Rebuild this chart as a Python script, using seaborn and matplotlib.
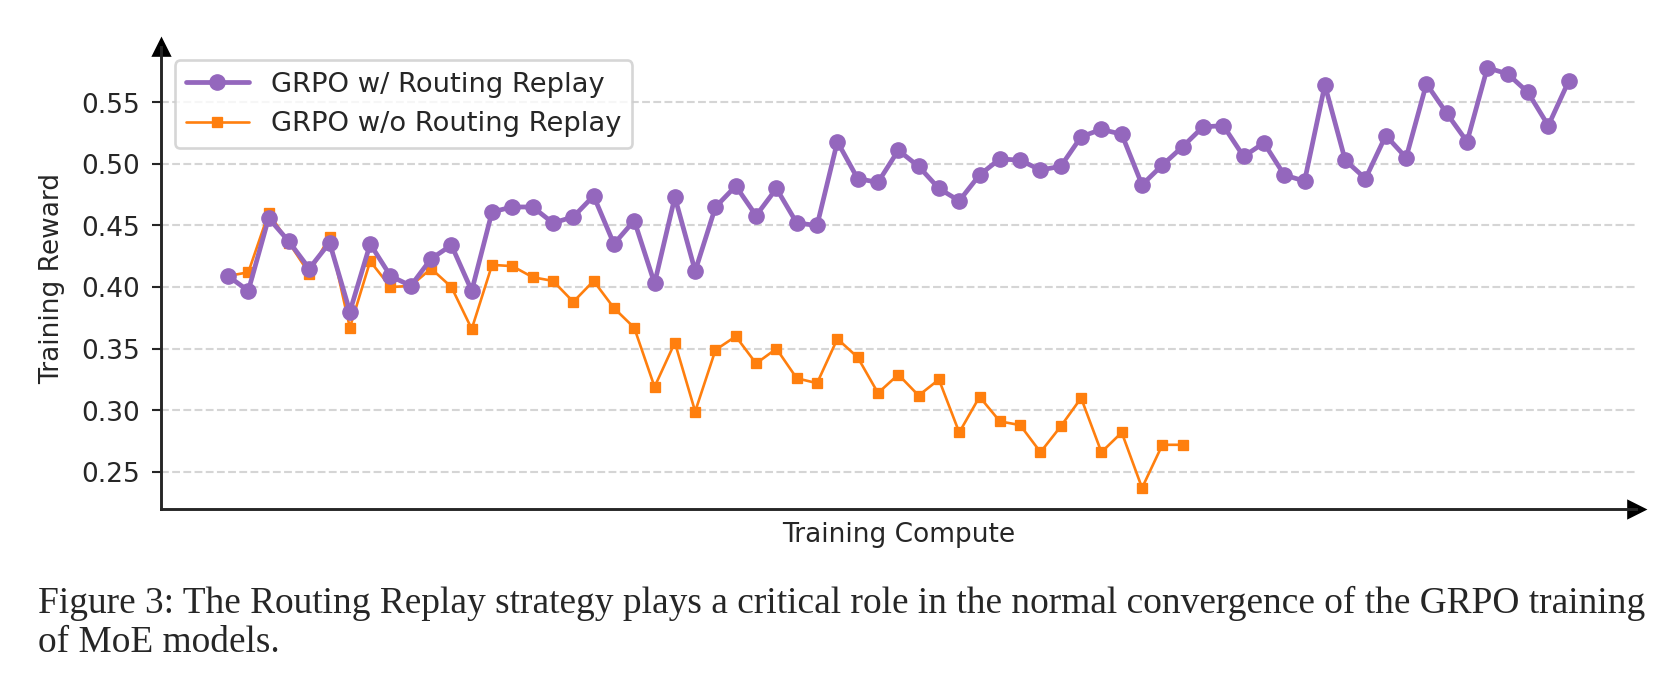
import numpy as np
import pandas as pd
import matplotlib
matplotlib.use("Agg")
import matplotlib.pyplot as plt
import seaborn as sns

# training reward (one value per logging step)
with_replay = [0.409, 0.397, 0.456, 0.437, 0.415, 0.436, 0.380, 0.435, 0.409, 0.401,
               0.423, 0.434, 0.397, 0.461, 0.465, 0.465, 0.452, 0.457, 0.474, 0.435,
               0.454, 0.403, 0.473, 0.413, 0.465, 0.482, 0.458, 0.480, 0.452, 0.450,
               0.518, 0.488, 0.485, 0.511, 0.498, 0.480, 0.470, 0.491, 0.504, 0.503,
               0.495, 0.498, 0.522, 0.528, 0.524, 0.483, 0.499, 0.514, 0.530, 0.531,
               0.506, 0.517, 0.491, 0.486, 0.564, 0.503, 0.488, 0.523, 0.505, 0.565,
               0.541, 0.518, 0.578, 0.573, 0.558, 0.531, 0.567]
without_replay = [0.409, 0.412, 0.460, 0.436, 0.411, 0.441, 0.367, 0.421, 0.400, 0.401,
                  0.415, 0.400, 0.366, 0.418, 0.417, 0.408, 0.405, 0.388, 0.405, 0.383,
                  0.367, 0.319, 0.355, 0.299, 0.349, 0.360, 0.338, 0.350, 0.326, 0.322,
                  0.358, 0.343, 0.314, 0.329, 0.312, 0.325, 0.282, 0.311, 0.291, 0.288,
                  0.266, 0.287, 0.310, 0.266, 0.282, 0.237, 0.272, 0.272]
series_names = ["GRPO w/ Routing Replay", "GRPO w/o Routing Replay"]
yticks = [0.25, 0.30, 0.35, 0.40, 0.45, 0.50, 0.55]
caption_lines = ["Figure 3: The Routing Replay strategy plays a critical role in the normal "
                 "convergence of the GRPO training",
                 "of MoE models."]

df_w = pd.DataFrame({"step": np.arange(len(with_replay)), "reward": with_replay})
df_wo = pd.DataFrame({"step": np.arange(len(without_replay)), "reward": without_replay})

sns.set_style("ticks")
plt.rcParams["font.family"] = ["DejaVu Sans"]

fig = plt.figure(figsize=(8.77, 3.612), dpi=190)
ax = fig.add_axes([0.0966, 0.258, 0.885, 0.6735])

purple = "#9467bd"
orange = "#ff7f0e"
sns.lineplot(data=df_w, x="step", y="reward", ax=ax, color=purple, marker="o",
             markersize=5.8, linewidth=1.8, markeredgecolor=purple, markeredgewidth=0.5,
             label=series_names[0], zorder=3)
sns.lineplot(data=df_wo, x="step", y="reward", ax=ax, color=orange, marker="s",
             markersize=3.8, linewidth=1.0, markeredgecolor=orange, markeredgewidth=0.5,
             label=series_names[1], zorder=2)

ax.set_yticks(yticks)
ax.set_xticks([])
ax.yaxis.grid(True, linestyle="--", color="#d5d5d5", linewidth=0.8)
ax.set_axisbelow(True)
sns.despine(ax=ax)
for side in ["left", "bottom"]:
    ax.spines[side].set_linewidth(1.1)
ax.tick_params(axis="y", length=3.5, width=0.8, pad=4.5, labelsize=10)

ax.set_xlabel("Training Compute", fontsize=10, labelpad=5)
ax.set_ylabel("Training Reward", fontsize=10, labelpad=6)

leg = ax.legend(loc="upper left", fontsize=10.4, handlelength=2.3, frameon=True)
leg.get_frame().set_edgecolor("#cccccc")

# arrow heads at the ends of the axes
ax.plot(1, 0, ">k", transform=ax.transAxes, clip_on=False, markersize=6)
ax.plot(0, 1, "^k", transform=ax.transAxes, clip_on=False, markersize=6)

# caption under the plot
cap1 = fig.text(0.023, 0.121, caption_lines[0], fontsize=13, family="Liberation Serif",
                va="center", ha="left")
cap2 = fig.text(0.023, 0.064, caption_lines[1], fontsize=13, family="Liberation Serif",
                va="center", ha="left")
fig.canvas.draw()
w = cap1.get_window_extent().width
target = 1604
new_size = 13 * target / w
cap1.set_fontsize(new_size)
cap2.set_fontsize(new_size)

fig.savefig("out.png", dpi=190)
